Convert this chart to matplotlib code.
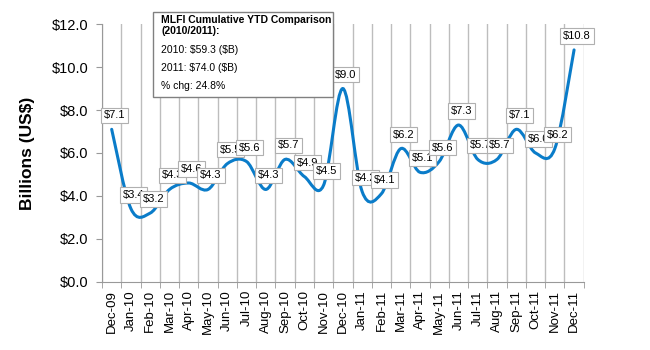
import matplotlib
matplotlib.use('Agg')
import matplotlib.pyplot as plt
from matplotlib.path import Path
from matplotlib.patches import PathPatch, Rectangle

plt.rcParams['font.family'] = ['Liberation Sans', 'DejaVu Sans']

months = ['Dec-09', 'Jan-10', 'Feb-10', 'Mar-10', 'Apr-10', 'May-10', 'Jun-10',
          'Jul-10', 'Aug-10', 'Sep-10', 'Oct-10', 'Nov-10', 'Dec-10', 'Jan-11',
          'Feb-11', 'Mar-11', 'Apr-11', 'May-11', 'Jun-11', 'Jul-11', 'Aug-11',
          'Sep-11', 'Oct-11', 'Nov-11', 'Dec-11']
values = [7.1, 3.4, 3.2, 4.3, 4.6, 4.3, 5.5, 5.6, 4.3, 5.7, 4.9, 4.5, 9.0,
          4.2, 4.1, 6.2, 5.1, 5.6, 7.3, 5.7, 5.7, 7.1, 6.0, 6.2, 10.8]
y_ticks = [0, 2, 4, 6, 8, 10, 12]
box_title = 'MLFI Cumulative YTD Comparison\n(2010/2011):'
box_lines = ['2010: $59.3 ($B)', '2011: $74.0 ($B)', '% chg: 24.8%']

blue = '#0a7cc9'
grid_c = '#bdbdbd'


def smooth_path(xs, ys):
    # excel-style smoothed line: cubic bezier through every point
    pts = list(zip(xs, ys))
    n = len(pts)
    verts = [pts[0]]
    codes = [Path.MOVETO]
    for i in range(n - 1):
        p0 = pts[i - 1] if i > 0 else pts[i]
        p1 = pts[i]
        p2 = pts[i + 1]
        p3 = pts[i + 2] if i + 2 < n else pts[i + 1]
        c1 = (p1[0] + (p2[0] - p0[0]) / 6, p1[1] + (p2[1] - p0[1]) / 6)
        c2 = (p2[0] - (p3[0] - p1[0]) / 6, p2[1] - (p3[1] - p1[1]) / 6)
        verts += [c1, c2, p2]
        codes += [Path.CURVE4] * 3
    return Path(verts, codes)


def main():
    fig = plt.figure(figsize=(6.5, 3.5), dpi=100)
    ax = fig.add_axes([0.157, 0.195, 0.741, 0.736])

    x = list(range(len(values)))
    ax.add_patch(PathPatch(smooth_path(x, values), fill=False,
                           edgecolor=blue, lw=2.2, capstyle='round', zorder=3))

    ax.set_xlim(-0.5, len(values) - 0.5)
    ax.set_ylim(0, 12)

    # vertical gridlines between categories
    ax.set_xticks([i - 0.5 for i in range(len(values) + 1)], minor=True)
    ax.grid(True, which='minor', axis='x', color=grid_c, lw=1.0)
    ax.set_xticks(x)
    ax.set_xticklabels(months, rotation=90, fontsize=9.5)
    ax.tick_params(axis='x', which='major', length=0, pad=6)
    ax.tick_params(axis='x', which='minor', length=4, color='#999999')

    ax.set_yticks(y_ticks)
    ax.set_yticklabels(['$%.1f' % v for v in y_ticks], fontsize=10.5)
    ax.tick_params(axis='y', length=4, color='#999999', pad=6)

    for s in ['top', 'right']:
        ax.spines[s].set_visible(False)
    for s in ['left', 'bottom']:
        ax.spines[s].set_color('#999999')

    ax.set_ylabel('Billions (US$)', fontsize=12.5, fontweight='bold', labelpad=12)

    for xi, v in zip(x, values):
        ax.annotate('$%.1f' % v, (xi, v), xytext=(3, 14), textcoords='offset pixels',
                    ha='center', va='center', fontsize=8, zorder=4, parse_math=False,
                    bbox=dict(boxstyle='square,pad=0.25', fc='white',
                              ec='#b0b0b0', lw=0.8))

    # comparison box
    fig.patches.append(Rectangle((0.236, 0.722), 0.277, 0.245, transform=fig.transFigure,
                                 fc='white', ec='#808080', lw=1.0, zorder=5))
    fig.text(0.248, 0.958, box_title, fontsize=7.5, fontweight='bold',
             va='top', ha='left', linespacing=1.2, zorder=6, parse_math=False)
    for k, line in enumerate(box_lines):
        fig.text(0.248, 0.857 - k * 0.052, line, fontsize=7.5, va='center',
                 ha='left', zorder=6, parse_math=False)

    fig.savefig('out.png', dpi=100)


main()
